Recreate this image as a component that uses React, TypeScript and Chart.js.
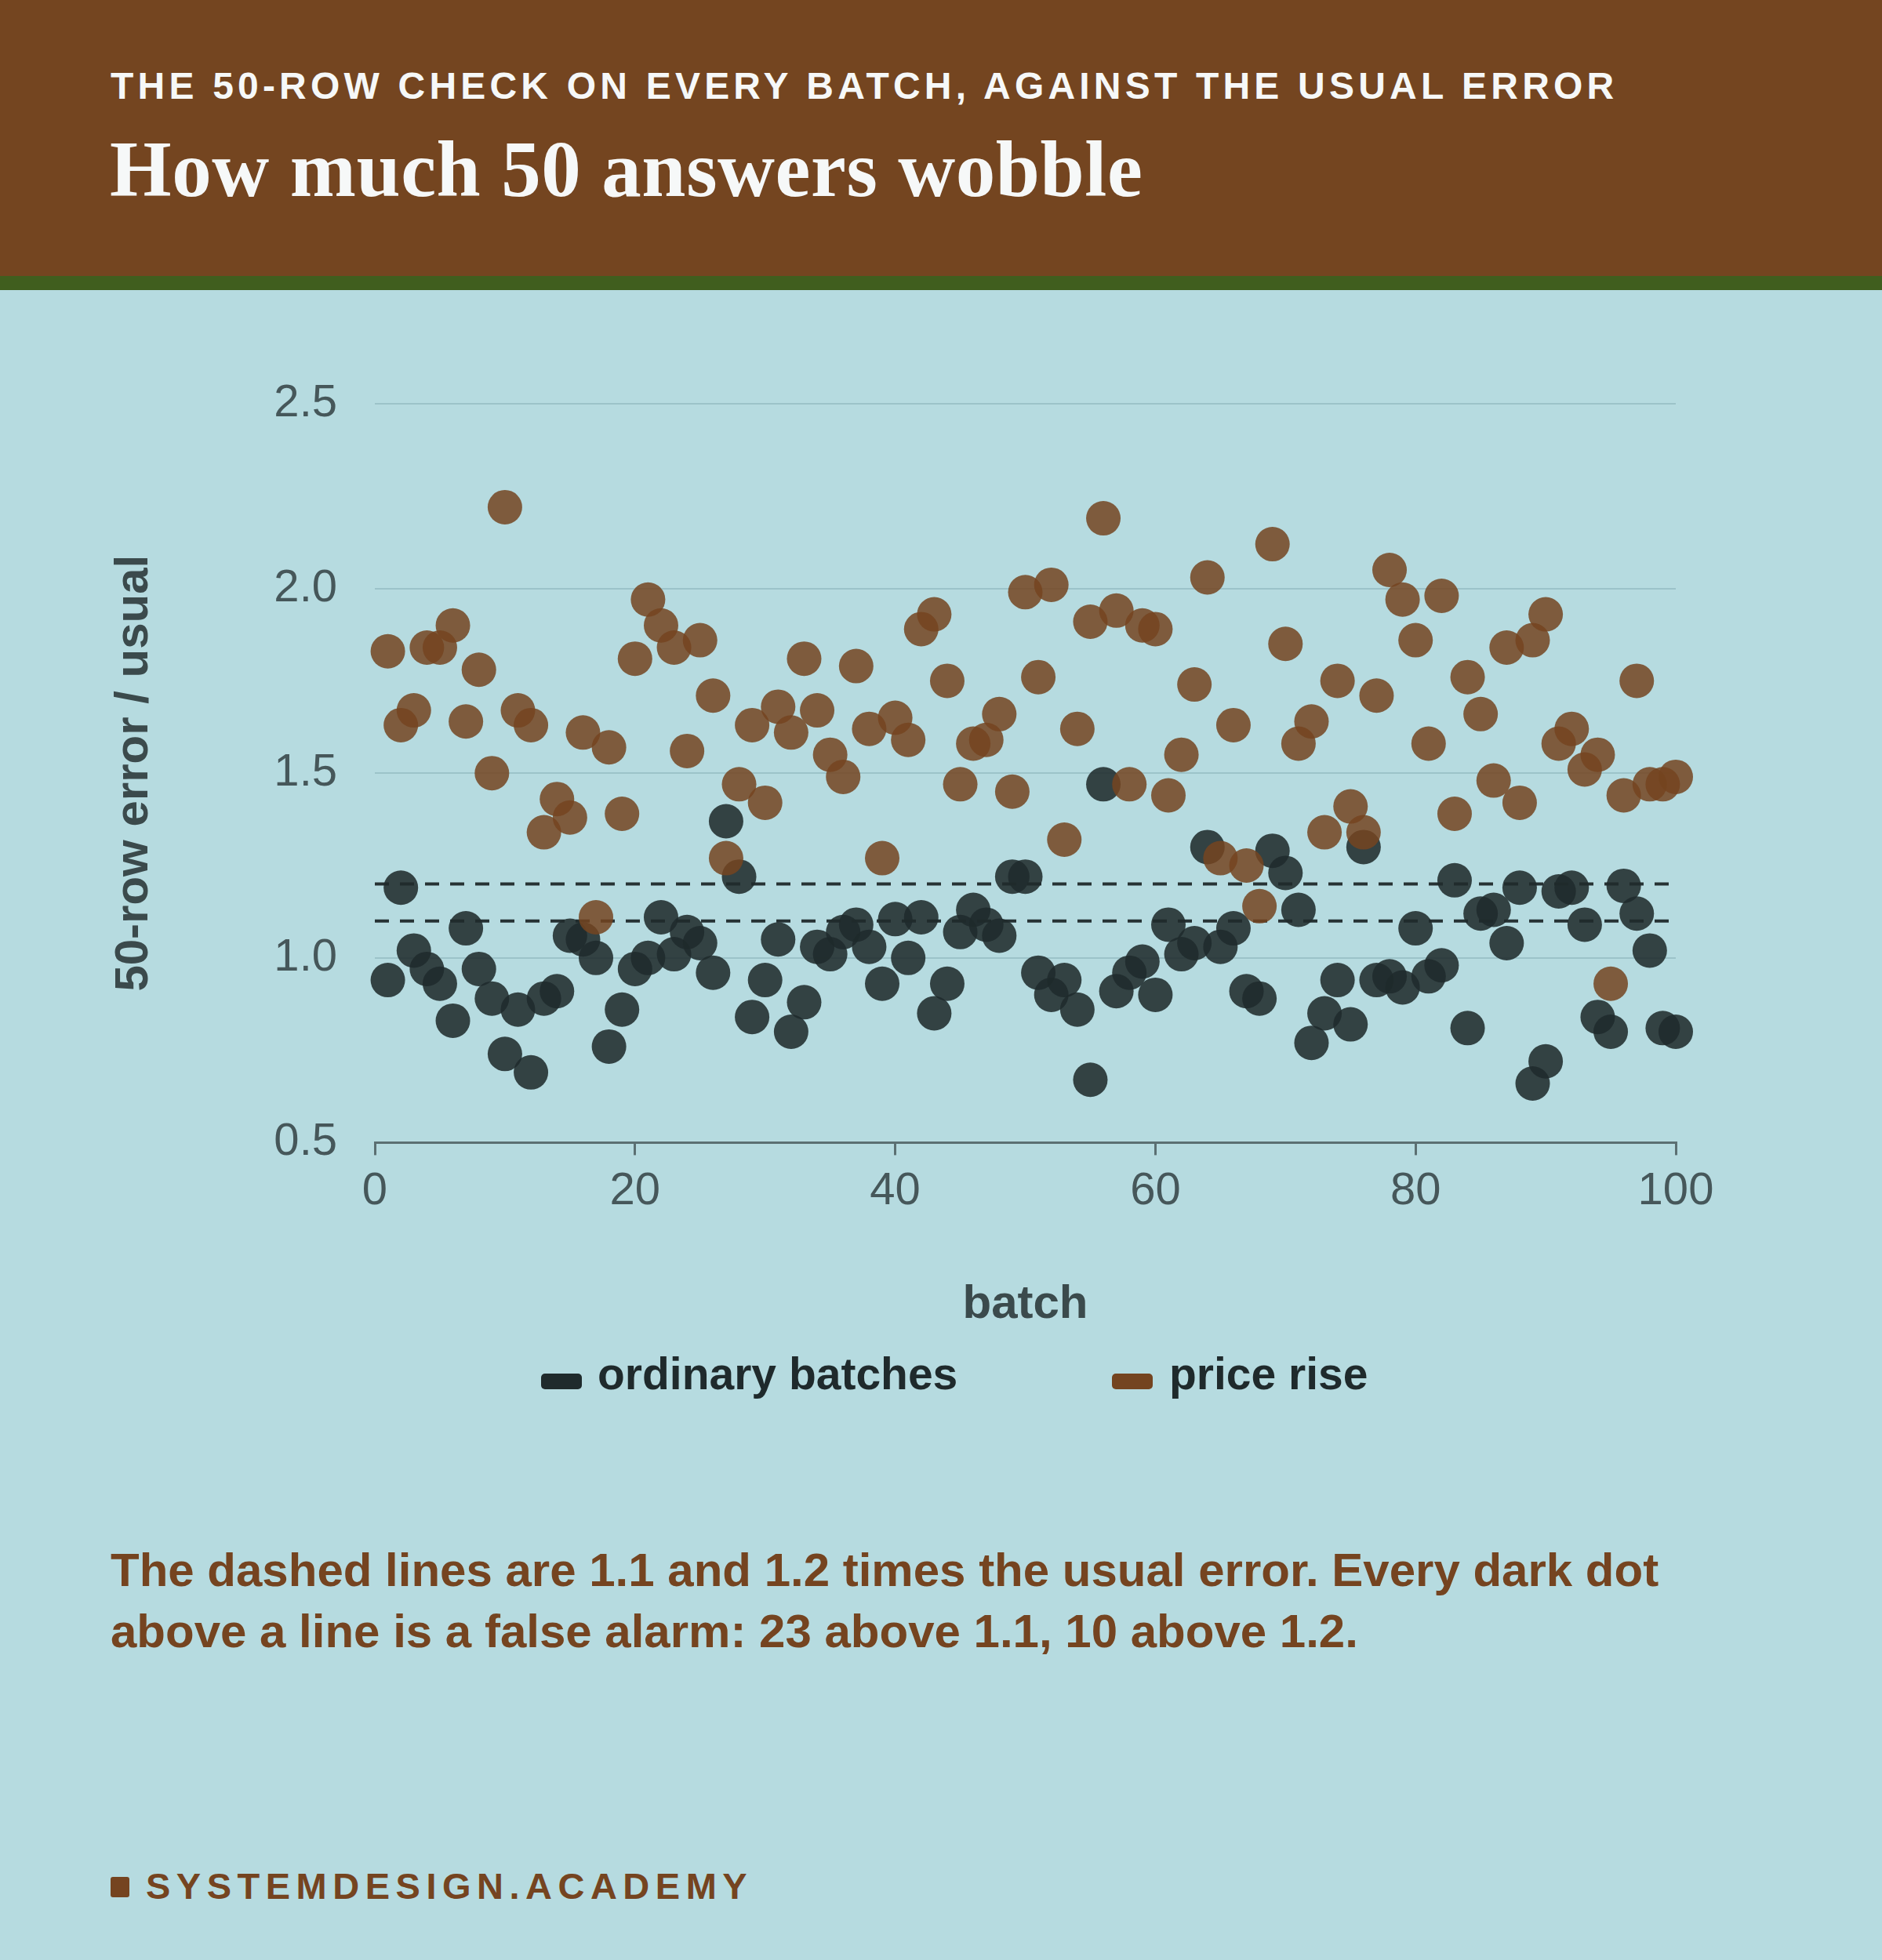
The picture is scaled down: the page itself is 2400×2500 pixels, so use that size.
import { useEffect, useRef } from 'react'
import { Chart, registerables } from 'chart.js'

Chart.register(...registerables)

// batch numbers along the x axis
const batches = Array.from({ length: 100 }, (_, i) => i + 1)

// 50-row error divided by the usual error
const ordinary = [
  0.94, 1.19, 1.02, 0.97, 0.93, 0.83, 1.08, 0.97, 0.89, 0.74,
  0.86, 0.69, 0.89, 0.91, 1.06, 1.05, 1.0, 0.76, 0.86, 0.97,
  1.0, 1.11, 1.01, 1.07, 1.04, 0.96, 1.37, 1.22, 0.84, 0.94,
  1.05, 0.8, 0.88, 1.03, 1.01, 1.07, 1.09, 1.03, 0.93, 1.105,
  1.0, 1.11, 0.85, 0.93, 1.07, 1.13, 1.09, 1.06, 1.22, 1.22,
  0.96, 0.9, 0.94, 0.86, 0.67, 1.47, 0.91, 0.96, 0.99, 0.9,
  1.09, 1.01, 1.04, 1.3, 1.03, 1.08, 0.91, 0.89, 1.29, 1.23,
  1.13, 0.77, 0.85, 0.94, 0.82, 1.3, 0.94, 0.95, 0.92, 1.08,
  0.95, 0.98, 1.21, 0.81, 1.12, 1.13, 1.04, 1.19, 0.66, 0.72,
  1.18, 1.19, 1.09, 0.84, 0.8, 1.195, 1.12, 1.02, 0.81, 0.8,
]

const priceRise = [
  1.83, 1.63, 1.67, 1.84, 1.84, 1.9, 1.64, 1.78, 1.5, 2.22,
  1.67, 1.63, 1.34, 1.43, 1.38, 1.61, 1.11, 1.57, 1.39, 1.81,
  1.97, 1.9, 1.84, 1.56, 1.86, 1.71, 1.27, 1.47, 1.63, 1.42,
  1.68, 1.61, 1.81, 1.67, 1.55, 1.49, 1.79, 1.62, 1.27, 1.65,
  1.59, 1.89, 1.93, 1.75, 1.47, 1.58, 1.59, 1.66, 1.45, 1.99,
  1.76, 2.01, 1.32, 1.62, 1.91, 2.19, 1.94, 1.47, 1.9, 1.89,
  1.44, 1.55, 1.74, 2.03, 1.27, 1.63, 1.25, 1.14, 2.12, 1.85,
  1.58, 1.64, 1.34, 1.75, 1.41, 1.34, 1.71, 2.05, 1.97, 1.86,
  1.58, 1.98, 1.39, 1.76, 1.66, 1.48, 1.84, 1.42, 1.86, 1.93,
  1.58, 1.62, 1.51, 1.55, 0.93, 1.44, 1.75, 1.47, 1.47, 1.49,
]

const thresholds = [1.1, 1.2]
const xTicks = [0, 20, 40, 60, 80, 100]
const yTicks = [0.5, 1.0, 1.5, 2.0, 2.5]

const SANS = "'Liberation Sans', Arial, Helvetica, sans-serif"
const SERIF = "'Liberation Serif', 'Times New Roman', serif"
const BG = '#b6dbe0'
const BROWN = '#744420'
const DARK = '#1f2a2c'
const TICK = '#46575a'
const AXIS = '#5b6f72'

export default function App() {
  const canvasRef = useRef<HTMLCanvasElement>(null)

  useEffect(() => {
    document.body.style.margin = '0'
    const ctx = canvasRef.current?.getContext('2d')
    if (!ctx) return

    const chart = new Chart(ctx, {
      type: 'scatter',
      data: {
        datasets: [
          {
            label: 'price rise',
            data: priceRise.map((y, i) => ({ x: batches[i], y })),
            backgroundColor: 'rgba(116, 68, 32, 0.85)',
            borderWidth: 0,
            pointRadius: 22,
            pointHoverRadius: 22,
            clip: false,
            order: 1,
          },
          {
            label: 'ordinary batches',
            data: ordinary.map((y, i) => ({ x: batches[i], y })),
            backgroundColor: 'rgba(31, 42, 44, 0.87)',
            borderWidth: 0,
            pointRadius: 22,
            pointHoverRadius: 22,
            clip: false,
            order: 2,
          },
          // dashed alarm lines
          ...thresholds.map((t) => ({
            type: 'line' as const,
            label: `${t}x usual`,
            data: [
              { x: xTicks[0], y: t },
              { x: xTicks[xTicks.length - 1], y: t },
            ],
            borderColor: '#263234',
            borderWidth: 4,
            borderDash: [18, 14],
            pointRadius: 0,
            fill: false,
            order: 3,
          })),
        ],
      },
      options: {
        responsive: false,
        animation: false,
        devicePixelRatio: 1,
        layout: { padding: { top: 115, right: 123, left: 0, bottom: 0 } },
        plugins: {
          legend: { display: false },
          tooltip: { enabled: false },
        },
        scales: {
          x: {
            type: 'linear',
            min: 0,
            max: 100,
            afterBuildTicks: (s: any) => {
              s.ticks = xTicks.map((v) => ({ value: v }))
            },
            ticks: {
              color: TICK,
              padding: 12,
              font: { family: SANS, size: 58 },
            },
            grid: {
              display: true,
              drawOnChartArea: false,
              drawTicks: true,
              tickLength: 16,
              color: AXIS,
              lineWidth: 3,
            },
            border: { display: true, color: AXIS, width: 3 },
            title: {
              display: true,
              text: 'batch',
              color: '#3b4a4c',
              font: { family: SANS, size: 60, weight: 'bold', lineHeight: 1 },
              padding: { top: 67, bottom: 11 },
            },
          },
          y: {
            min: 0.5,
            max: 2.5,
            afterBuildTicks: (s: any) => {
              s.ticks = yTicks.map((v) => ({ value: v }))
            },
            afterFit: (s: any) => {
              s.width = 338
            },
            ticks: {
              color: TICK,
              padding: 48,
              font: { family: SANS, size: 58 },
              callback: (v: any) => Number(v).toFixed(1),
            },
            grid: { color: '#9cc3c9', lineWidth: 2, drawTicks: false },
            border: { display: false },
            title: {
              display: true,
              text: '50-row error / usual',
              color: '#3b4a4c',
              font: { family: SANS, size: 60, weight: 'bold', lineHeight: 1 },
              padding: { top: 1, bottom: 0 },
            },
          },
        },
      },
    } as any)

    return () => chart.destroy()
  }, [])

  const abs = (style: React.CSSProperties): React.CSSProperties => ({
    position: 'absolute',
    whiteSpace: 'nowrap',
    lineHeight: 1,
    margin: 0,
    ...style,
  })

  return (
    <div
      style={{
        position: 'relative',
        width: 2400,
        height: 2500,
        background: BG,
        fontFamily: SANS,
        overflow: 'hidden',
      }}
    >
      {/* Header band */}
      <div style={{ position: 'absolute', left: 0, top: 0, width: 2400, height: 352, background: '#744520' }} />
      <div style={{ position: 'absolute', left: 0, top: 352, width: 2400, height: 18, background: '#405e1e' }} />
      <div
        style={abs({
          left: 141,
          top: 86,
          fontSize: 48,
          fontWeight: 700,
          letterSpacing: 5.2,
          color: '#f6f8f8',
        })}
      >
        THE 50-ROW CHECK ON EVERY BATCH, AGAINST THE USUAL ERROR
      </div>
      <div
        style={abs({
          left: 140,
          top: 166,
          fontFamily: SERIF,
          fontSize: 101,
          fontWeight: 700,
          letterSpacing: 0.6,
          color: '#f6f8f8',
        })}
      >
        How much 50 answers wobble
      </div>

      {/* Chart */}
      <div style={{ position: 'absolute', left: 140, top: 400, width: 2120, height: 1305 }}>
        <canvas ref={canvasRef} width={2120} height={1305} style={{ width: 2120, height: 1305 }} />
      </div>

      {/* Legend */}
      <div style={{ position: 'absolute', left: 690, top: 1752, width: 52, height: 20, borderRadius: 5, background: DARK }} />
      <div style={abs({ left: 762, top: 1724, fontSize: 57, fontWeight: 700, color: DARK })}>ordinary batches</div>
      <div style={{ position: 'absolute', left: 1418, top: 1752, width: 52, height: 20, borderRadius: 5, background: BROWN }} />
      <div style={abs({ left: 1491, top: 1724, fontSize: 57, fontWeight: 700, color: DARK })}>price rise</div>

      {/* Caption */}
      <div
        style={{
          position: 'absolute',
          left: 141,
          top: 1964,
          fontSize: 60,
          lineHeight: '78px',
          fontWeight: 700,
          color: '#754420',
          whiteSpace: 'nowrap',
        }}
      >
        The dashed lines are 1.1 and 1.2 times the usual error. Every dark dot
        <br />
        above a line is a false alarm: 23 above 1.1, 10 above 1.2.
      </div>

      {/* Footer */}
      <div style={{ position: 'absolute', left: 141, top: 2394, width: 24, height: 26, borderRadius: 3, background: '#754420' }} />
      <div
        style={abs({
          left: 186,
          top: 2382,
          fontSize: 47,
          fontWeight: 700,
          letterSpacing: 7.5,
          color: '#754420',
        })}
      >
        SYSTEMDESIGN.ACADEMY
      </div>
    </div>
  )
}
